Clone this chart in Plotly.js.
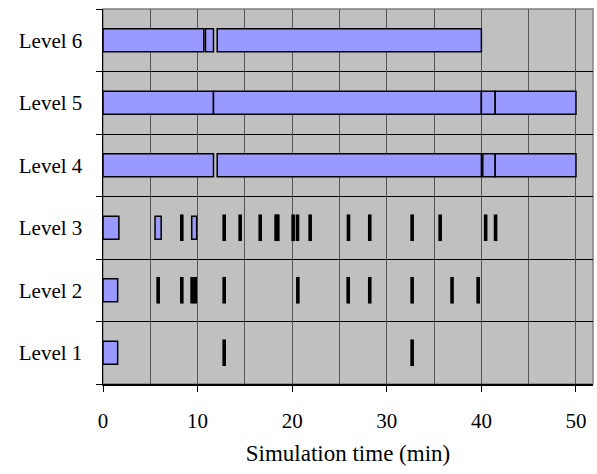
<!DOCTYPE html>
<html>
<head>
<meta charset="utf-8">
<script src="https://cdn.plot.ly/plotly-3.0.1.min.js"></script>
<style>
  html, body { margin: 0; padding: 0; background: #ffffff; }
  #chart { width: 597px; height: 474px; }
</style>
</head>
<body>
<div id="chart"></div>
<script>
// Level labels, bottom to top
const levels = ['Level 1', 'Level 2', 'Level 3', 'Level 4', 'Level 5', 'Level 6'];

// Busy phases per level: start and end times (min)
const level1Start = [0];
const level1End   = [1.55];
const level2Start = [0];
const level2End   = [1.55];
const level3Start = [0, 5.5, 9.38];
const level3End   = [1.68, 6.15, 9.9];
const level4Start = [0, 12.07, 40.15, 41.46];
const level4End   = [11.68, 40.0, 41.46, 50.0];
const level5Start = [0, 11.68, 40.0, 41.46];
const level5End   = [11.68, 40.0, 41.46, 50.0];
const level6Start = [0, 10.83, 12.07];
const level6End   = [10.66, 11.68, 40.0];

// Short events per level (min)
const level1Events = [12.81, 32.68];
const level2Events = [5.83, 8.33, 9.42, 9.75, 12.81, 20.6, 25.92, 28.2, 32.68, 36.9, 39.66];
const level3Events = [8.33, 12.81, 14.5, 16.62, 18.3, 18.48, 20.1, 20.56, 21.9, 25.95, 28.2, 32.68, 35.64, 40.45, 41.5];

const phaseStarts = [level1Start, level2Start, level3Start, level4Start, level5Start, level6Start];
const phaseEnds   = [level1End, level2End, level3End, level4End, level5End, level6End];
const eventTimes  = [level1Events, level2Events, level3Events, [], [], []];

// Flatten phases into one horizontal bar trace
const barY = [], barBase = [], barLen = [];
phaseStarts.forEach((starts, i) => {
  starts.forEach((s, j) => {
    barY.push(i + 1);
    barBase.push(s);
    barLen.push(phaseEnds[i][j] - s);
  });
});

const evX = [], evY = [];
eventTimes.forEach((times, i) => {
  times.forEach(t => { evX.push(t); evY.push(i + 1); });
});

const serif = 'Liberation Serif';

const traces = [
  {
    type: 'bar',
    orientation: 'h',
    y: barY,
    x: barLen,
    base: barBase,
    width: 0.37,
    marker: { color: '#9999FF', line: { color: '#000000', width: 1.5 } },
    hoverinfo: 'skip',
    showlegend: false
  },
  {
    type: 'scatter',
    mode: 'markers',
    x: evX,
    y: evY,
    marker: { symbol: 'line-ns-open', size: 19, color: '#000000', line: { color: '#000000', width: 3.6 } },
    hoverinfo: 'skip',
    showlegend: false
  }
];

const layout = {
  width: 597,
  height: 474,
  margin: { l: 103, r: 4, t: 9, b: 90 },
  paper_bgcolor: '#ffffff',
  plot_bgcolor: '#C0C0C0',
  font: { family: serif, size: 21, color: '#000000' },
  barmode: 'overlay',
  xaxis: {
    range: [0, 51.8],
    tickvals: [0, 10, 20, 30, 40, 50],
    ticks: 'outside',
    ticklen: 6,
    tickcolor: '#000000',
    tickwidth: 1,
    ticklabelstandoff: 11,
    showline: true,
    linecolor: '#000000',
    linewidth: 1.5,
    showgrid: true,
    gridcolor: '#555555',
    gridwidth: 1,
    minor: { tick0: 0, dtick: 5, showgrid: true, gridcolor: '#555555', gridwidth: 1, ticks: '' },
    zeroline: false,
    tickfont: { family: serif, size: 21, color: '#000000' },
    title: { text: 'Simulation time (min)', font: { family: serif, size: 23, color: '#000000' }, standoff: 13 },
    fixedrange: true
  },
  yaxis: {
    range: [0.5, 6.5],
    tickvals: [1, 2, 3, 4, 5, 6],
    ticktext: levels,
    ticks: '',
    ticklabelstandoff: 15,
    showline: true,
    linecolor: '#000000',
    linewidth: 1.5,
    showgrid: false,
    minor: { tick0: 0.5, dtick: 1, showgrid: true, gridcolor: '#000000', gridwidth: 1, ticks: 'outside', ticklen: 6, tickcolor: '#000000', tickwidth: 1 },
    zeroline: false,
    tickfont: { family: serif, size: 21, color: '#000000' },
    fixedrange: true
  },
  shapes: [
    { type: 'rect', xref: 'paper', yref: 'paper', x0: 0, x1: 1, y0: 0, y1: 1,
      line: { color: '#808080', width: 1.5 }, fillcolor: 'rgba(0,0,0,0)', layer: 'below' }
  ]
};

Plotly.newPlot('chart', traces, layout, { displayModeBar: false, staticPlot: true });
</script>
</body>
</html>
